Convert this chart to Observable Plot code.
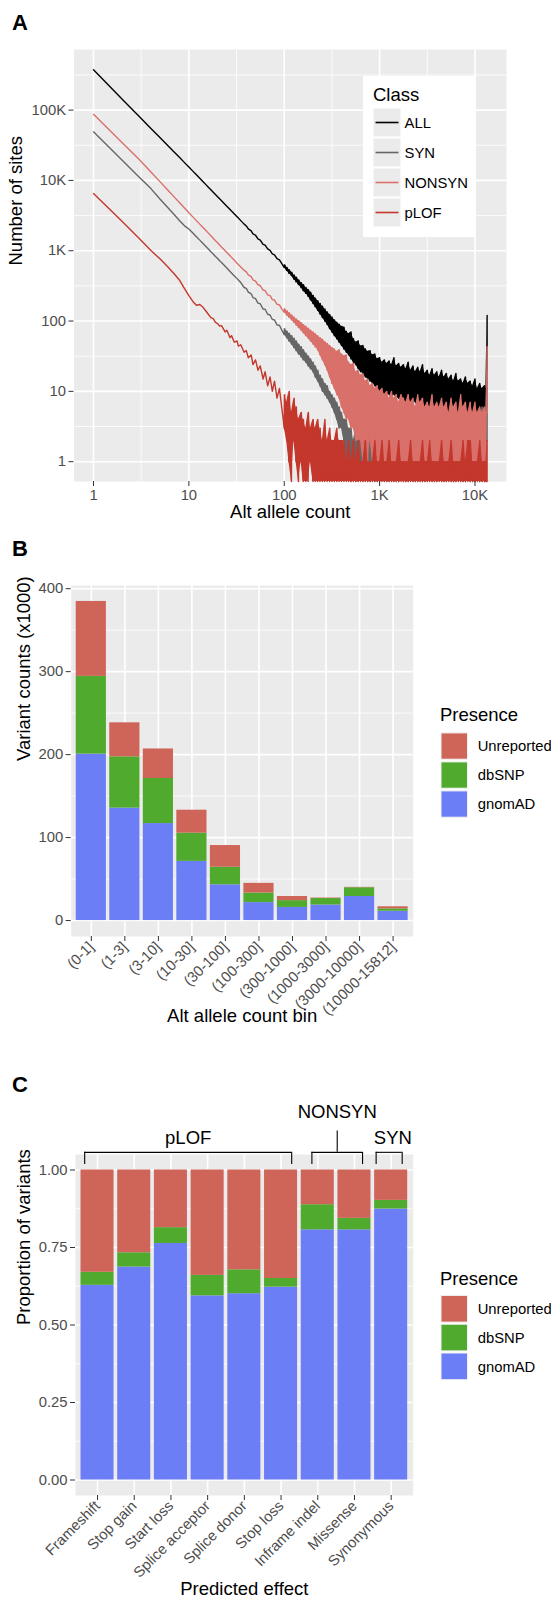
<!DOCTYPE html>
<html>
<head>
<meta charset="utf-8">
<script src="https://cdn.jsdelivr.net/npm/d3@7"></script>
<script src="https://cdn.jsdelivr.net/npm/@observablehq/plot@0.6"></script>
<style>
  html, body { margin: 0; padding: 0; background: #fff; overflow: hidden; }
  #page { position: relative; width: 551px; height: 1601px; overflow: hidden; background: #fff; }
  .slot { position: absolute; left: 0; }
  .slot svg { display: block; }
  #overlay { position: absolute; left: 0; top: 0; pointer-events: none; }
</style>
</head>
<body>
<div id="page">
  <div class="slot" id="slotA" style="top:0px"></div>
  <div class="slot" id="slotB" style="top:530px"></div>
  <div class="slot" id="slotC" style="top:1040px"></div>
</div>
<script>
// ---------------- DATA ----------------
// Panel A: site frequency spectrum
const classNames = ["ALL", "SYN", "NONSYN", "pLOF"];
const classColors = ["#000000", "#666666", "#D9706A", "#C4372C"];

const headAC = [1,2,3,4,5,6,7,8,9,10,11,12,13,14,15,16,17,18,19,20,21,22,24,25,27,28,30,32,33,35,38,40,42,45,47,50,53,56,60,63,67,71,75,79,84,89,94];
const allHead = [374000,143000,81700,54800,40300,31300,25400,21100,17900,15500,13550,12000,10740,9660,8780,8020,7370,6800,6310,5870,5480,5140,4550,4300,3860,3660,3330,3040,2910,2680,2390,2250,2040,1920,1740,1660,1470,1420,1230,1200,1060,1010,900,875,770,740,660];
const synHead = [49000,19400,11200,7640,5400,4130,3270,2670,2260,2040,1790,1580,1415,1275,1160,1060,970,900,830,775,720,680,600,566,508,483,438,401,384,353,300,292,258,244,216,208,180,176,148,147,125,122,105,104,88,87,75];
const nonsynHead = [87000,34400,20000,13200,9530,7310,5830,4810,4050,3470,3030,2680,2390,2150,1950,1780,1630,1500,1390,1300,1210,1130,1000,944,847,804,730,665,638,589,526,500,452,428,386,370,328,318,276,270,236,230,202,199,173,170,149];
const plofHead = [6500,2600,1500,1010,760,590,470,380,290,230,190,168,172,158,140,125,112,108,96,92,85,86,70,74,58,62,50,52,44,46,36,38,30,33,24,28,20,23,15,19,12,16,10,14,8,11,6];

// noisy tail: at each anchor allele count, the low and high count among neighbouring counts
const tailAC = [100,106,112,119,126,133,141,150,158,168,178,188,200,211,224,237,251,266,282,299,316,335,355,376,398,422,447,473,501,531,562,596,631,668,708,750,794,841,891,944,1000,1059,1122,1189,1259,1334,1413,1496,1585,1679,1778,1884,1995,2113,2239,2371,2512,2661,2818,2985,3162,3350,3548,3758,3981,4217,4467,4732,5012,5309,5623,5957,6310,6683,7079,7499,7943,8414,8913,9441,10000,10593,11220,11885,12589,13000,13400];
const allLo = [575,525,478,440,395,362,330,300,270,248,225,200,178,160,142,126,112,100,89,78,70,62,56,50,45,40,36,33,29,26,24,21,19,18,16,15,14,13,12,11,10,10,9,9,9,8,9,8,8,8,7,7,7,7,7,7,6,6,6,6,6,6,6,6,5,5,5,5,5,5,5,5,5,5,4,4,4,4,4,4,4,4,4,4,4,4,6];
const allHi = [630,580,535,495,452,420,385,352,328,300,280,258,232,212,195,178,162,148,135,124,114,104,96,90,84,82,71,66,70,56,50,52,44,45,40,37,38,33,34,29,30,26,28,25,27,24,30,23,25,22,24,21,26,20,23,19,22,19,24,18,20,17,21,17,19,16,20,16,18,15,17,14,18,14,15,13,16,13,14,12,15,11,13,11,12,11,120];
const synLo = [64,58,52,47,42,38,34,31,28,26,23,21,19,16,14,12,10,9,8,7,6,5,4,3,3,2,1,1,0,1,0,0,1,0,1,0,0,1,0,0,0,1,0,0,0,1,0,0,0,1,0,0,0,1,0,0,0,1,0,0,0,1,0,0,0,1,0,0,0,1,0,0,0,1,0,0,0,1,0,0,0,1,0,0,0,1,2];
const synHi = [78,72,67,62,57,52,47,43,39,35,32,29,26,23,20,17,15,13,12,10,9,8,7,6,5,4,4,3,3,2,3,2,3,4,3,4,3,4,3,4,3,4,3,5,3,4,3,4,3,4,5,3,4,3,4,3,5,3,4,3,4,3,5,3,4,3,4,5,3,4,3,5,4,3,4,5,3,4,5,4,6,4,5,6,4,5,20];
const nonsynLo = [133,122,113,104,96,88,81,74,68,62,57,52,47,43,39,33,28,24,20,16,13,11,9,8,6,5,4,4,3,3,2,2,2,1,2,1,2,1,1,1,1,1,1,1,1,0,1,1,1,1,1,0,1,1,1,1,1,0,1,1,1,1,1,1,0,1,1,1,1,1,1,0,1,1,1,1,1,1,0,1,1,1,1,1,1,1,5];
const nonsynHi = [150,140,131,122,114,107,101,95,89,84,79,74,70,66,62,58,55,51,48,45,42,40,37,39,34,32,33,26,24,25,19,20,17,18,14,15,12,13,11,12,10,11,9,10,8,10,8,9,7,9,8,7,9,7,8,6,9,7,8,6,7,6,9,6,7,6,8,6,7,5,8,6,7,5,9,6,7,5,7,5,7,5,6,5,6,5,43];
const plofLo = [3,2,1,0,2,1,0,1,0,0,0,1,0,0,0,0,0,0,0,0,0,0,0,0,0,0,0,0,0,0,0,0,0,0,0,0,0,0,0,0,0,0,0,0,0,0,0,0,0,0,0,0,0,0,0,0,0,0,0,0,0,0,0,0,0,0,0,0,0,0,0,0,0,0,0,0,0,0,0,0,0,0,0,0,0,0,0];
const plofHi = [9,7,10,5,8,6,4,5,4,3,5,3,4,3,4,3,2,4,2,3,2,2,3,2,2,2,1,2,1,2,1,2,1,1,2,1,1,1,2,1,1,2,1,1,2,1,1,1,2,1,1,1,1,2,1,1,1,1,2,1,1,2,1,1,1,1,2,1,1,1,2,1,1,1,1,2,1,2,2,1,1,1,2,1,1,1,2];

const xMajorA = [1, 10, 100, 1000, 10000];
const xMajorLabels = ["1", "10", "100", "1K", "10K"];
const xMinorA = [3.1623, 31.623, 316.23, 3162.3];
const yMajorA = [1, 10, 100, 1000, 10000, 100000];
const yMajorLabels = ["1", "10", "100", "1K", "10K", "100K"];
const yMinorA = [3.1623, 31.623, 316.23, 3162.3, 31623, 316228];

// Panel B
const binLabels = ["(0-1]","(1-3]","(3-10]","(10-30]","(30-100]","(100-300]","(300-1000]","(1000-3000]","(3000-10000]","(10000-15812]"];
const binGnomad = [200.6,135.5,116.9,71.3,43.1,21.6,15.8,18.7,29.0,11.2];
const binDbsnp = [93.7,61.8,54.3,34.0,21.1,11.6,8.2,7.8,10.5,2.9];
const binUnreported = [90.3,41.0,35.6,27.7,26.2,11.6,5.0,0.6,0.5,2.5];
const bMajor = [0, 100, 200, 300, 400];
const bMinor = [50, 150, 250, 350];

// Panel C
const effectLabels = ["Frameshift","Stop gain","Start loss","Splice acceptor","Splice donor","Stop loss","Inframe indel","Missense","Synonymous"];
const effGnomad = [0.628,0.687,0.763,0.594,0.601,0.622,0.807,0.807,0.874];
const effDbsnp = [0.042,0.046,0.051,0.066,0.077,0.028,0.081,0.037,0.028];
const effUnreported = [0.330,0.267,0.186,0.340,0.322,0.350,0.112,0.156,0.098];
const cMajor = [0, 0.25, 0.5, 0.75, 1];
const cMinor = [0.125, 0.375, 0.625, 0.875];
const groupNames = ["pLOF", "NONSYN", "SYN"];
const groupFrom = [0.65, 6.84, 8.59];
const groupTo = [6.29, 8.22, 9.30];

const presenceLevels = ["Unreported", "dbSNP", "gnomAD"];
const presenceColors = ["#CF6459", "#4FAA2D", "#6C7EF6"];
const stackOrder = ["gnomAD", "dbSNP", "Unreported"];

// ---------------- STYLE / LAYOUT ----------------
const FONT = '"Liberation Sans", Arial, Helvetica, sans-serif';
const PANEL_BG = "#EBEBEB";
const TICK_TEXT = "#4D4D4D";
const TICK_LINE = "#333333";
const TICK_FS = 14.8;
const TITLE_FS = 18.5;
const W = 551;

function gridMarks(opts) {
  const m = [];
  if (opts.xMinor) m.push(Plot.ruleX(opts.xMinor, {stroke: "white", strokeWidth: 0.8}));
  if (opts.yMinor) m.push(Plot.ruleY(opts.yMinor, {stroke: "white", strokeWidth: 0.8}));
  if (opts.xMajor) m.push(Plot.ruleX(opts.xMajor, {stroke: "white", strokeWidth: 1.6}));
  if (opts.yMajor) m.push(Plot.ruleY(opts.yMajor, {stroke: "white", strokeWidth: 1.6}));
  return m;
}

// ---------------- PANEL A ----------------
const yMinA = 0.5226;
const floorA = v => (v > 0 ? v : yMinA); // zero counts sit on the panel floor (-Inf on a log axis)
function seriesPoints(head, lo, hi) {
  const pts = headAC.map((ac, i) => ({ac, n: head[i]}));
  tailAC.forEach((ac, i) => {
    pts.push({ac, n: lo[i]});
    pts.push({ac: ac + 1, n: hi[i]});
  });
  return pts;
}
function tailRows(lo, hi) {
  return tailAC.map((ac, i) => ({ac, lo: lo[i], hi: hi[i]}));
}
const headsA = [allHead, synHead, nonsynHead, plofHead];
const losA = [allLo, synLo, nonsynLo, plofLo];
const hisA = [allHi, synHi, nonsynHi, plofHi];

const seriesMarks = [];
classNames.forEach((name, k) => {
  seriesMarks.push(Plot.areaY(tailRows(losA[k], hisA[k]), {
    x: "ac", y1: d => floorA(d.lo), y2: d => floorA(d.hi), fill: classColors[k], curve: "linear"
  }));
  seriesMarks.push(Plot.line(seriesPoints(headsA[k], losA[k], hisA[k]), {
    x: "ac", y: d => floorA(d.n), stroke: classColors[k], strokeWidth: 1.4
  }));
});

const plotA = Plot.plot({
  width: W, height: 530,
  marginLeft: 73.5, marginRight: 45, marginTop: 49, marginBottom: 49,
  style: {fontFamily: FONT, background: "transparent", overflow: "visible"},
  x: {type: "log", domain: [0.6244, 21400]},
  y: {type: "log", domain: [yMinA, 727000]},
  marks: [
    Plot.frame({fill: PANEL_BG, stroke: "none"}),
    ...gridMarks({xMinor: xMinorA, yMinor: yMinorA, xMajor: xMajorA, yMajor: yMajorA}),
    ...seriesMarks,
    Plot.axisX({ticks: xMajorA, tickFormat: d => xMajorLabels[xMajorA.indexOf(d)], tickSize: 5, tickPadding: 3,
      fontSize: TICK_FS, fill: TICK_TEXT, stroke: TICK_LINE, label: null}),
    Plot.axisY({ticks: yMajorA, tickFormat: d => yMajorLabels[yMajorA.indexOf(d)], tickSize: 5, tickPadding: 3,
      fontSize: TICK_FS, fill: TICK_TEXT, stroke: TICK_LINE, label: null}),
    Plot.text(["Alt allele count"], {frameAnchor: "bottom", dy: 36.7, fontSize: TITLE_FS, fill: "black"}),
    Plot.text(["Number of sites"], {frameAnchor: "left", dx: -57.5, rotate: -90, fontSize: TITLE_FS, fill: "black"})
  ]
});
document.getElementById("slotA").appendChild(plotA);

// ---------------- PANEL B ----------------
function stackRows(n, g, db, un) {
  const rows = [];
  for (let k = 0; k < n; k++) {
    rows.push({i: k + 1, presence: "gnomAD", v: g[k]});
    rows.push({i: k + 1, presence: "dbSNP", v: db[k]});
    rows.push({i: k + 1, presence: "Unreported", v: un[k]});
  }
  return rows;
}
const rowsB = stackRows(binLabels.length, binGnomad, binDbsnp, binUnreported);
const idxB = binLabels.map((_, k) => k + 1);
const totB = idxB.map((_, k) => binGnomad[k] + binDbsnp[k] + binUnreported[k]);
const maxB = d3.max(totB);

const plotB = Plot.plot({
  width: W, height: 510,
  marginLeft: 70.7, marginRight: 138.3, marginTop: 55, marginBottom: 104,
  style: {fontFamily: FONT, background: "transparent", overflow: "visible"},
  x: {domain: [0.4, binLabels.length + 0.6]},
  y: {domain: [-0.05 * maxB, 1.05 * maxB]},
  color: {domain: presenceLevels, range: presenceColors},
  marks: [
    Plot.frame({fill: PANEL_BG, stroke: "none"}),
    ...gridMarks({yMinor: bMinor, yMajor: bMajor, xMajor: idxB}),
    Plot.rectY(rowsB, Plot.stackY({x: "i", x1: d => d.i - 0.45, x2: d => d.i + 0.45, y: "v", fill: "presence", order: stackOrder})),
    Plot.axisX({ticks: idxB, tickFormat: i => binLabels[i - 1], tickRotate: -45, tickSize: 5, tickPadding: 3,
      fontSize: TICK_FS, fill: TICK_TEXT, stroke: TICK_LINE, label: null}),
    Plot.axisY({ticks: bMajor, tickFormat: d3.format("d"), tickSize: 5, tickPadding: 3,
      fontSize: TICK_FS, fill: TICK_TEXT, stroke: TICK_LINE, label: null}),
    Plot.text(["Alt allele count bin"], {frameAnchor: "bottom", dy: 85.7, fontSize: TITLE_FS, fill: "black"}),
    Plot.text(["Variant counts (x1000)"], {frameAnchor: "left", dx: -47.2, rotate: -90, fontSize: TITLE_FS, fill: "black"})
  ]
});
document.getElementById("slotB").appendChild(plotB);

// ---------------- PANEL C ----------------
const rowsC = stackRows(effectLabels.length, effGnomad, effDbsnp, effUnreported);
const idxC = effectLabels.map((_, k) => k + 1);
const groups = groupNames.map((name, k) => ({name, from: groupFrom[k], to: groupTo[k], mid: (groupFrom[k] + groupTo[k]) / 2}));
const legs = groups.flatMap(g => [g.from, g.to]);
const BR_TOP = 1.057, BR_LEG = 1.0175, STEM_TOP = 1.126, LABEL_LOW = 1.104, LABEL_HIGH = 1.186;

const plotC = Plot.plot({
  width: W, height: 561,
  marginLeft: 75, marginRight: 138.3, marginTop: 114, marginBottom: 106,
  style: {fontFamily: FONT, background: "transparent", overflow: "visible"},
  x: {domain: [0.4, effectLabels.length + 0.6]},
  y: {domain: [-0.05, 1.05]},
  color: {domain: presenceLevels, range: presenceColors},
  marks: [
    Plot.frame({fill: PANEL_BG, stroke: "none"}),
    ...gridMarks({yMinor: cMinor, yMajor: cMajor, xMajor: idxC}),
    Plot.rectY(rowsC, Plot.stackY({x: "i", x1: d => d.i - 0.45, x2: d => d.i + 0.45, y: "v", fill: "presence", order: stackOrder})),
    // group brackets
    Plot.ruleY(groups, {x1: "from", x2: "to", y: BR_TOP, stroke: "black", strokeWidth: 1.1}),
    Plot.ruleX(legs, {x: d => d, y1: BR_LEG, y2: BR_TOP, stroke: "black", strokeWidth: 1.1}),
    Plot.ruleX(groups.filter(g => g.name === "NONSYN"), {x: "mid", y1: BR_TOP, y2: STEM_TOP, stroke: "black", strokeWidth: 1.1}),
    Plot.text(groups, {x: d => d.name === "SYN" ? d.mid + 0.1 : d.mid, y: d => d.name === "NONSYN" ? LABEL_HIGH : LABEL_LOW,
      text: "name", fontSize: TITLE_FS, fill: "black"}),
    Plot.axisX({ticks: idxC, tickFormat: i => effectLabels[i - 1], tickRotate: -45, tickSize: 5, tickPadding: 3,
      fontSize: TICK_FS, fill: TICK_TEXT, stroke: TICK_LINE, label: null}),
    Plot.axisY({ticks: cMajor, tickFormat: d3.format(".2f"), tickSize: 5, tickPadding: 3,
      fontSize: TICK_FS, fill: TICK_TEXT, stroke: TICK_LINE, label: null}),
    Plot.text(["Predicted effect"], {frameAnchor: "bottom", dy: 99, fontSize: TITLE_FS, fill: "black"}),
    Plot.text(["Proportion of variants"], {frameAnchor: "left", dx: -51, rotate: -90, fontSize: TITLE_FS, fill: "black"})
  ]
});
document.getElementById("slotC").appendChild(plotC);

// ---------------- OVERLAY: panel letters + legends ----------------
const svg = d3.select("#page").append("svg").attr("id", "overlay")
  .attr("width", W).attr("height", 1601)
  .style("font-family", FONT);

[["A", 30], ["B", 556], ["C", 1092]].forEach(([t, y]) => {
  svg.append("text").attr("x", 12).attr("y", y).attr("font-size", 22).attr("font-weight", "bold").text(t);
});

// Legend A (Class)
const gA = svg.append("g");
gA.append("rect").attr("x", 363).attr("y", 76).attr("width", 113).attr("height", 161).attr("fill", "white");
gA.append("text").attr("x", 373).attr("y", 100.5).attr("font-size", TITLE_FS).text("Class");
classNames.forEach((name, k) => {
  const top = 108.5 + 30 * k, cy = top + 14;
  gA.append("rect").attr("x", 373.5).attr("y", top).attr("width", 27).attr("height", 28).attr("fill", PANEL_BG);
  gA.append("line").attr("x1", 375.5).attr("x2", 398.5).attr("y1", cy).attr("y2", cy)
    .attr("stroke", classColors[k]).attr("stroke-width", 1.6);
  gA.append("text").attr("x", 404.6).attr("y", cy + 0.358 * TICK_FS).attr("font-size", TICK_FS).text(name);
});

// Presence legends (B and C)
function presenceLegend(titleCy, keyTops, keyH) {
  const g = svg.append("g");
  g.append("text").attr("x", 440).attr("y", titleCy + 0.358 * TITLE_FS).attr("font-size", TITLE_FS).text("Presence");
  presenceLevels.forEach((lvl, k) => {
    g.append("rect").attr("x", 441).attr("y", keyTops[k]).attr("width", 26.5).attr("height", keyH)
      .attr("fill", presenceColors[k]).attr("stroke", "#F2F2F2").attr("stroke-width", 1);
    g.append("text").attr("x", 477.7).attr("y", keyTops[k] + keyH / 2 + 0.358 * TICK_FS)
      .attr("font-size", TICK_FS).text(lvl);
  });
}
presenceLegend(714, [732.9, 761.9, 790.9], 26.3);
presenceLegend(1278, [1295.4, 1324.2, 1353.0], 26.7);
</script>
</body>
</html>
